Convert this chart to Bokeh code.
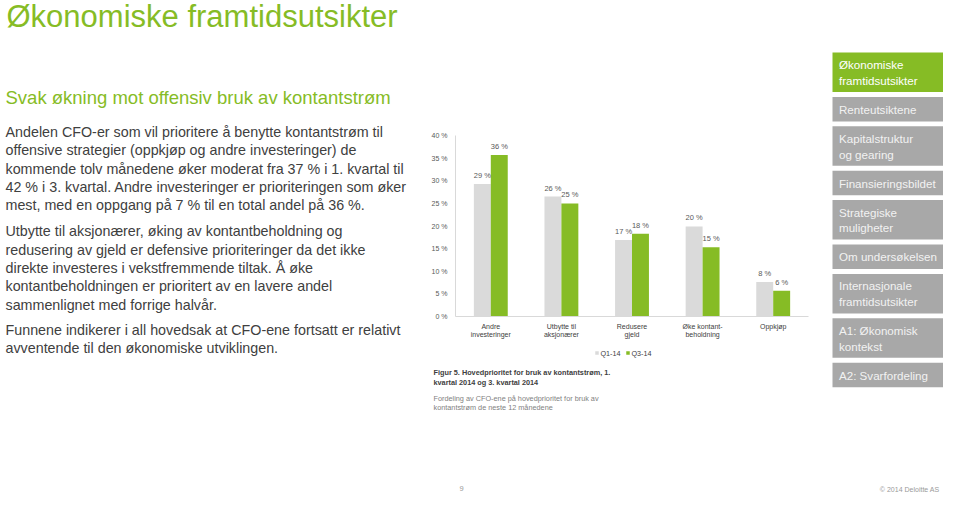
from bokeh.plotting import figure
from bokeh.models import Range1d, FactorRange, ColumnDataSource, FixedTicker, PrintfTickFormatter
from bokeh.layouts import row, column
from bokeh.transform import dodge
from bokeh.core.properties import value
from bokeh.embed import file_html
from bokeh.resources import INLINE

FONT = "Liberation Sans"
GREEN = "#86BC25"
GREY_BAR = "#DADADA"
TEXT = "#404040"
MUTED = "#7F7F7F"

# ---------------- data ----------------
categories = ["Andre\ninvesteringer", "Utbytte til\naksjonærer", "Redusere\ngjeld",
              "Øke kontant-\nbeholdning", "Oppkjøp"]
q1_14 = [29.3, 26.5, 16.9, 19.9, 7.6]
q3_14 = [35.7, 25.0, 18.3, 15.3, 5.7]
q1_labels = ["29 %", "26 %", "17 %", "20 %", "8 %"]
q3_labels = ["36 %", "25 %", "18 %", "15 %", "6 %"]
series_names = ["Q1-14", "Q3-14"]
y_ticks = [0, 5, 10, 15, 20, 25, 30, 35, 40]

title = "Økonomiske framtidsutsikter"
subtitle = "Svak økning mot offensiv bruk av kontantstrøm"
paragraphs = [
    ["Andelen CFO-er som vil prioritere å benytte kontantstrøm til",
     "offensive strategier (oppkjøp og andre investeringer) de",
     "kommende tolv månedene øker moderat fra 37 % i 1. kvartal til",
     "42 % i 3. kvartal. Andre investeringer er prioriteringen som øker",
     "mest, med en oppgang på 7 % til en total andel på 36 %."],
    ["Utbytte til aksjonærer, øking av kontantbeholdning og",
     "redusering av gjeld er defensive prioriteringer da det ikke",
     "direkte investeres i vekstfremmende tiltak. Å øke",
     "kontantbeholdningen er prioritert av en lavere andel",
     "sammenlignet med forrige halvår."],
    ["Funnene indikerer i all hovedsak at CFO-ene fortsatt er relativt",
     "avventende til den økonomiske utviklingen."],
]
caption_bold = ["Figur 5. Hovedprioritet for bruk av kontantstrøm, 1.",
                "kvartal 2014 og 3. kvartal 2014"]
caption_note = ["Fordeling av CFO-ene på hovedprioritet for bruk av",
                "kontantstrøm de neste 12 månedene"]
nav_items = ["Økonomiske\nframtidsutsikter", "Renteutsiktene", "Kapitalstruktur\nog gearing",
             "Finansieringsbildet", "Strategiske\nmuligheter", "Om undersøkelsen",
             "Internasjonale\nframtidsutsikter", "A1: Økonomisk\nkontekst", "A2: Svarfordeling"]
active_nav = 0
page_number = "9"
copyright_text = "© 2014 Deloitte AS"


def canvas(x0, x1, y0, y1):
    p = figure(width=x1 - x0, height=y1 - y0, x_range=Range1d(x0, x1), y_range=Range1d(y1, y0),
               x_axis_type=None, y_axis_type=None, toolbar_location=None, output_backend="svg",
               min_border=0, outline_line_color=None, frame_align=False)
    p.grid.visible = False
    return p


def put(p, x, y, txt, size, color, style="normal", align="left"):
    # y is the wanted baseline; Bokeh's text box sits ~0.35em lower, compensate
    p.text(x=[x], y=[y - 0.35 * size], text=[txt], text_font=value(FONT),
           text_font_size=f"{size}px", text_color=color, text_font_style=style,
           text_align=align, text_baseline="alphabetic")


# ---------------- left text column ----------------
left = canvas(0, 425, 0, 493)
put(left, 6, 26.5, title, 31, GREEN)
put(left, 5, 103.5, subtitle, 18.5, GREEN)
starts = [136.5, 236, 334.5]
for start, lines in zip(starts, paragraphs):
    for i, line in enumerate(lines):
        put(left, 5, start + i * 18.3, line, 14.3, TEXT)

# ---------------- chart ----------------
src = ColumnDataSource(dict(cat=categories, q1=q1_14, q3=q3_14, l1=q1_labels, l3=q3_labels))
chart = figure(x_range=FactorRange(*categories), y_range=Range1d(0, 40),
               width=395, height=345, min_border_left=30, min_border_right=12,
               min_border_top=135, min_border_bottom=29, frame_align=False,
               toolbar_location=None, output_backend="svg", outline_line_color=None)
chart.grid.visible = False
chart.vbar(x=dodge("cat", -0.12, range=chart.x_range), top="q1", width=0.24, source=src,
           fill_color=GREY_BAR, line_color=None)
chart.vbar(x=dodge("cat", 0.12, range=chart.x_range), top="q3", width=0.24, source=src,
           fill_color=GREEN, line_color=None)
for off, col, lab in [(-0.12, "q1", "l1"), (0.12, "q3", "l3")]:
    chart.text(x=dodge("cat", off, range=chart.x_range), y=col, text=lab, source=src,
               text_font=value(FONT), text_font_size="7.5px", text_color="#595959",
               text_align="center", text_baseline="alphabetic", y_offset=-8.5)

ya = chart.yaxis[0]
ya.ticker = FixedTicker(ticks=y_ticks)
ya.formatter = PrintfTickFormatter(format="%d %%")
ya.axis_line_color = "#D9D9D9"
ya.major_tick_line_color = None
ya.minor_tick_line_color = None
ya.major_label_text_font = FONT
ya.major_label_text_font_size = "7px"
ya.major_label_text_color = "#595959"
ya.major_label_standoff = 2

xa = chart.xaxis[0]
xa.axis_line_color = "#D9D9D9"
xa.major_tick_line_color = None
xa.minor_tick_line_color = None
xa.major_label_text_font = FONT
xa.major_label_text_font_size = "7px"
xa.major_label_text_color = TEXT
xa.major_label_standoff = 0

# ---------------- caption under chart ----------------
cap = canvas(425, 820, 345, 493)
cap.scatter(x=[596.5, 627.5], y=[352.5, 352.5], marker="square", size=3.5,
            fill_color=[GREY_BAR, GREEN], line_color=None)
put(cap, 600, 355.2, series_names[0], 7.2, TEXT)
put(cap, 631, 355.2, series_names[1], 7.2, TEXT)
for i, line in enumerate(caption_bold):
    put(cap, 433, 374.8 + i * 9.3, line, 7.3, TEXT, style="bold")
for i, line in enumerate(caption_note):
    put(cap, 433, 400.3 + i * 8.8, line, 7.3, MUTED)
put(cap, 461, 491, page_number, 7.5, "#9A9A9A", align="center")

# ---------------- sidebar navigation ----------------
side = canvas(820, 943, 0, 493)
y = 52.0
for i, item in enumerate(nav_items):
    lines = item.split("\n")
    h = 39.5 if len(lines) == 2 else 24.5
    side.quad(left=[832], right=[960], top=[y], bottom=[y + h],
              fill_color=GREEN if i == active_nav else "#A8A8A8", line_color=None)
    mid = y + h / 2
    for j, line in enumerate(lines):
        cy = mid + (j - (len(lines) - 1) / 2) * 15.8
        put(side, 838.5, cy + 4.3, line, 11.6, "#FFFFFF" if i == active_nav else "#F2F2F2")
    y += h + 4.9
put(side, 939, 491, copyright_text, 7, "#9A9A9A", align="right")

layout = row(left, column(chart, cap), side)
open("out.html", "w").write(file_html(layout, INLINE))
